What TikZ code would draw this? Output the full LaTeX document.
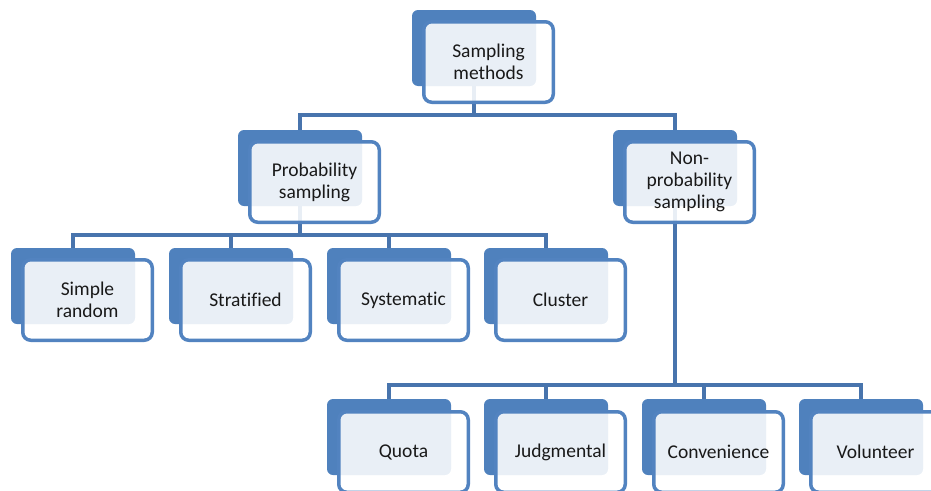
\documentclass[tikz,border=0pt]{standalone}
\usepackage{fontspec}
\setmainfont{Carlito}[Ligatures=NoCommon]
\usetikzlibrary{backgrounds}
\definecolor{backblue}{HTML}{4F81BD}
\definecolor{frontblue}{HTML}{5283C0}
\definecolor{connblue}{HTML}{4874AD}
\begin{document}
\begin{tikzpicture}[x=1pt,y=1pt,
  backbox/.style={rectangle, rounded corners=6pt, fill=backblue, minimum width=124pt, minimum height=76pt, inner sep=0pt},
  frontbox/.style={rectangle, rounded corners=8pt, draw=frontblue, line width=3.5pt, fill=white, fill opacity=0.88, text opacity=1, minimum width=129.5pt, minimum height=80.5pt, align=center, font=\fontsize{19.5}{22}\selectfont, text=black!90, inner sep=0pt},
  conn/.style={draw=connblue, line width=4pt}]
\useasboundingbox (0,0) rectangle (931,-490);
\clip (0,0) rectangle (931,-490);
\coordinate (bartop) at (0,-115);
\coordinate (barp) at (0,-235);
\coordinate (barn) at (0,-385);
% back boxes
\node[backbox] (topb) at (474,-48) {};
\node[backbox] (probb) at (300,-168) {};
\node[backbox] (nonb) at (675,-168) {};
\node[backbox] (srb) at (73,-286) {};
\node[backbox] (stb) at (231,-286) {};
\node[backbox] (syb) at (389,-286) {};
\node[backbox] (clb) at (546,-286) {};
\node[backbox] (qub) at (389,-437) {};
\node[backbox] (jub) at (546,-437) {};
\node[backbox] (cob) at (704,-437) {};
\node[backbox] (vob) at (861,-437) {};
% front boxes
\node[frontbox] (topf) at ([shift={(14.5,-14)}]topb.center) {Sampling\\methods};
\node[frontbox] (probf) at ([shift={(14.5,-14)}]probb.center) {Probability\\sampling};
\node[frontbox] (nonf) at ([shift={(14.5,-14)}]nonb.center) {Non-\\probability\\sampling};
\node[frontbox] (srf) at ([shift={(14.5,-14)}]srb.center) {Simple\\random};
\node[frontbox] (stf) at ([shift={(14.5,-14)}]stb.center) {Stratified};
\node[frontbox] (syf) at ([shift={(14.5,-14)}]syb.center) {Systematic};
\node[frontbox] (clf) at ([shift={(14.5,-14)}]clb.center) {Cluster};
\node[frontbox] (quf) at ([shift={(14.5,-15)}]qub.center) {Quota};
\node[frontbox] (juf) at ([shift={(14.5,-15)}]jub.center) {Judgmental};
\node[frontbox] (cof) at ([shift={(14.5,-15)}]cob.center) {Convenience};
\node[frontbox] (vof) at ([shift={(14.5,-15)}]vob.center) {Volunteer};
% connectors
\begin{pgfonlayer}{background}
\draw[conn] (topb.south) -- (topb.south |- bartop);
\draw[conn] (probb.north) |- (nonb.north |- bartop) -- (nonb.north);
\draw[conn] (probb.south) -- (probb.south |- barp);
\draw[conn] (srb.north) |- (clb.north |- barp) -- (clb.north);
\draw[conn] (stb.north) -- (stb.north |- barp);
\draw[conn] (syb.north) -- (syb.north |- barp);
\draw[conn] (nonb.south) -- (nonb.south |- barn);
\draw[conn] (qub.north) |- (vob.north |- barn) -- (vob.north);
\draw[conn] (jub.north) -- (jub.north |- barn);
\draw[conn] (cob.north) -- (cob.north |- barn);
\end{pgfonlayer}
\end{tikzpicture}
\end{document}
